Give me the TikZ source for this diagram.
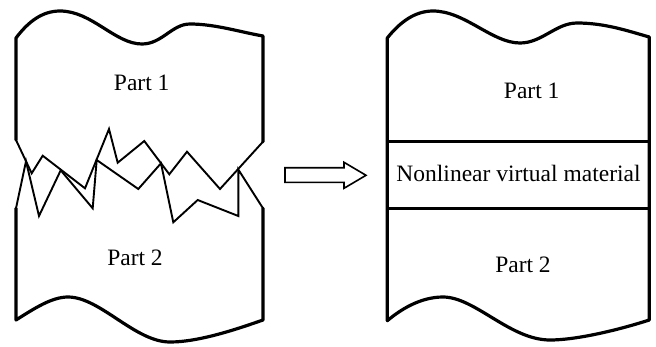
\documentclass[tikz,border=0pt]{standalone}
\usepackage{fontspec}
\setmainfont{Liberation Serif}
\begin{document}
\begin{tikzpicture}[x=1pt,y=-1pt,
  outline/.style={line width=3.2pt,line join=round,line cap=round},
  crack/.style={line width=1.9pt,line join=miter},
  band/.style={line width=3pt},
  blockarrow/.style={line width=1.6pt,line join=miter},
  lbl/.style={font=\fontsize{23.5}{28}\selectfont,inner sep=0pt}]
\useasboundingbox (0,0) rectangle (656,346);

% ---------- broken specimen ----------
% upper part: wavy top and straight sides
\draw[outline] (16,140) -- (16,38)
  .. controls (28,22) and (42,11) .. (60,11)
  .. controls (92,11) and (115,44) .. (142,44)
  .. controls (162,44) and (172,24) .. (190,24)
  .. controls (215,24) and (240,32) .. (263,36) -- (263,141.7);
% lower part: straight sides and wavy bottom
\draw[outline] (16,208.3) -- (16,320)
  .. controls (35,308) and (52,297) .. (68,297)
  .. controls (100,297) and (135,342) .. (170,342)
  .. controls (200,342) and (240,328) .. (263,320) -- (263,208.3);
% fracture surface of the upper part
\draw[crack] (16,140) -- (31.7,173.3) -- (42.7,155.7) -- (85,188.3)
  -- (109,129) -- (117.7,162.7) -- (144.3,141) -- (169.3,174.3)
  -- (187,151.7) -- (220,189) -- (263,141.7);
% fracture surface of the lower part
\draw[crack] (16,208.3) -- (26,161.3) -- (39,216) -- (60.7,170.3)
  -- (92.7,208.3) -- (96.7,160) -- (138.3,189) -- (161,163.3)
  -- (173.3,222.3) -- (197.7,200) -- (238.3,216) -- (238.3,169.5)
  -- (263,208.3);
\node[lbl] (p1a) at (141.7,83.3) {Part 1};
\node[lbl] (p2a) at (135,258.3) {Part 2};

% ---------- block arrow ----------
\draw[blockarrow] (285,167.7) -- (344,167.7) -- (344,162.3) -- (366,175.3)
  -- (344,188.3) -- (344,182.3) -- (285,182.3) -- cycle;

% ---------- model with virtual material ----------
\draw[outline] (387.3,320.7) -- (387.3,38)
  .. controls (400,22) and (415,11) .. (433,11)
  .. controls (465,11) and (492,43) .. (520,43)
  .. controls (542,43) and (556,23) .. (577,23)
  .. controls (605,23) and (628,31) .. (649.3,37) -- (649.3,320)
  .. controls (615,331) and (575,340) .. (550,340)
  .. controls (510,340) and (475,297) .. (443,297)
  .. controls (420,297) and (400,310) .. (387.3,320.7);
\draw[band] (387.3,141.7) -- (649.3,141.7);
\draw[band] (387.3,208.3) -- (649.3,208.3);
\node[lbl] (p1b) at (531.7,90.5) {Part 1};
\node[lbl] (nvm) at (518.5,173.3) {Nonlinear virtual material};
\node[lbl] (p2b) at (523,264.5) {Part 2};
\end{tikzpicture}
\end{document}
